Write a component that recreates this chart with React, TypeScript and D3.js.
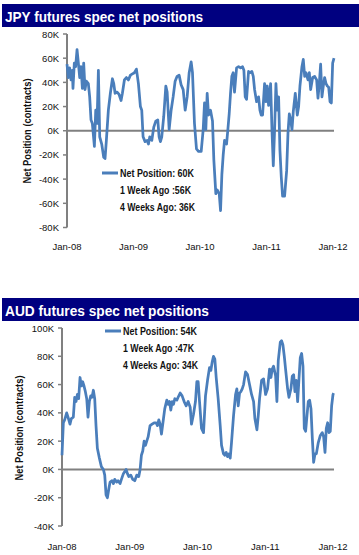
import React from "react";
import * as d3 from "d3";

// ---- JPY data: years since Jan 2008, value in contracts (K) ----
const jpyT = [0,0.020,0.040,0.060,0.080,0.090,0.110,0.130,0.151,0.171,0.191,0.211,0.231,0.251,0.271,0.291,0.321,0.341,0.361,0.381,0.412,0.432,0.452,0.472,0.492,0.522,0.552,0.572,0.592,0.622,0.652,0.683,0.703,0.723,0.753,0.783,0.813,0.833,0.863,0.893,0.923,0.954,0.984,1.014,1.044,1.074,1.104,1.124,1.144,1.174,1.205,1.225,1.245,1.275,1.305,1.335,1.365,1.385,1.405,1.425,1.455,1.486,1.506,1.536,1.566,1.596,1.626,1.656,1.686,1.716,1.747,1.777,1.807,1.837,1.867,1.887,1.917,1.947,1.977,2.018,2.048,2.068,2.088,2.108,2.128,2.158,2.188,2.208,2.238,2.259,2.289,2.309,2.329,2.349,2.369,2.399,2.419,2.439,2.459,2.479,2.499,2.519,2.550,2.580,2.610,2.640,2.660,2.680,2.700,2.730,2.750,2.780,2.801,2.821,2.851,2.881,2.901,2.921,2.941,2.971,2.991,3.011,3.031,3.062,3.082,3.102,3.122,3.142,3.162,3.182,3.202,3.222,3.242,3.272,3.303,3.323,3.343,3.363,3.383,3.403,3.433,3.463,3.483,3.503,3.533,3.553,3.574,3.594,3.624,3.644,3.664,3.694,3.724,3.754,3.774,3.794,3.814,3.834,3.854,3.874,3.895,3.915,3.935,3.955,3.975,3.995,4.015];
const jpyV = [55,44,52,42,50,35,56,53,67,56,44,53,35,56,34,41,39,28,9,6,-13,17,6,50,-5,-11,-22,-23,-8,17,31,43,39,31,32,30,25,31,42,44,42,46,47,48,51,39,20,17,-5,-9,-8,-11,-5,-8,3,8,9,-5,-9,-5,12,37,32,1,17,28,41,45,46,38,34,17,28,48,57,48,6,-15,-17,-17,1,23,1,31,13,17,8,-24,-52,-49,-52,-66,-36,-20,-8,-11,1,14,31,45,48,32,52,53,52,53,50,28,26,49,48,49,45,34,24,28,17,13,13,39,24,37,21,39,1,-29,1,39,17,28,-16,-38,-54,-54,-33,-2,14,9,1,16,31,13,20,37,53,59,45,48,42,48,34,44,45,42,27,39,55,28,37,44,39,37,36,24,23,56,60];

// ---- AUD data ----
const audT = [0,0.020,0.039,0.069,0.089,0.118,0.138,0.167,0.187,0.207,0.227,0.246,0.266,0.286,0.305,0.325,0.345,0.365,0.384,0.404,0.424,0.443,0.463,0.483,0.502,0.522,0.552,0.581,0.611,0.631,0.650,0.670,0.690,0.709,0.739,0.759,0.778,0.808,0.828,0.857,0.877,0.906,0.946,0.966,0.985,1.015,1.044,1.074,1.103,1.133,1.153,1.172,1.192,1.212,1.232,1.251,1.271,1.300,1.330,1.360,1.389,1.409,1.429,1.448,1.468,1.498,1.517,1.547,1.567,1.586,1.606,1.626,1.645,1.665,1.695,1.714,1.744,1.773,1.803,1.833,1.862,1.892,1.911,1.941,1.970,1.990,2.010,2.030,2.059,2.089,2.118,2.148,2.177,2.197,2.217,2.236,2.256,2.276,2.305,2.335,2.355,2.384,2.404,2.424,2.443,2.463,2.483,2.502,2.532,2.562,2.581,2.601,2.621,2.640,2.660,2.680,2.709,2.739,2.768,2.798,2.828,2.847,2.877,2.897,2.916,2.946,2.975,3.005,3.034,3.064,3.084,3.103,3.123,3.153,3.172,3.192,3.222,3.241,3.261,3.281,3.300,3.330,3.350,3.379,3.399,3.419,3.438,3.458,3.478,3.498,3.517,3.537,3.557,3.576,3.596,3.616,3.635,3.655,3.675,3.695,3.714,3.734,3.754,3.783,3.813,3.842,3.862,3.882,3.901,3.921,3.941,3.960,3.980,4.000,4.010];
const audV = [10,33,35,40,37,32,36,37,51,48,53,50,65,59,62,59,55,50,37,48,52,51,56,50,31,15,8,2,0,-4,-18,-20,-14,-9,-8,-10,-7,-9,-8,-10,-7,-3,0,-3,-5,-4,-7,-8,-4,-5,0,10,13,20,17,20,23,31,32,33,33,31,35,32,25,36,43,49,46,48,42,48,46,50,49,51,54,52,48,45,48,44,32,39,48,62,62,48,29,26,52,63,72,70,76,80,78,65,50,31,17,11,10,12,9,11,8,19,38,53,57,45,54,55,57,60,69,67,60,53,48,36,28,38,50,63,64,53,57,71,65,71,73,66,48,77,90,91,88,80,71,57,51,57,66,67,55,63,48,64,79,82,73,29,27,38,48,49,43,22,5,11,11,19,24,26,23,12,29,33,26,27,45,53,54];

const yearTicks = [2008, 2009, 2010, 2011, 2012];
const jpyTicks = [-80, -60, -40, -20, 0, 20, 40, 60, 80];
const audTicks = [-40, -20, 0, 20, 40, 60, 80, 100];
const jpyLegend = ["Net Position: 60K", "1 Week Ago :56K", "4 Weeks Ago: 36K"];
const audLegend = ["Net Position: 54K", "1 Week Ago :47K", "4 Weeks Ago: 34K"];

const BLUE = "#4a7ebb";
const GRAY = "#808080";
const FONT = "'Liberation Sans', Arial, sans-serif";

const toDate = (t: number) => new Date(new Date(2008, 0, 1).getTime() + t * 365.25 * 864e5);

type ChartProps = {
  title: string;
  top: number;
  titleW: number;
  axisX: number;
  yDomain: [number, number];
  yRange: [number, number];
  ticks: number[];
  t: number[];
  v: number[];
  legend: string[];
  legendX: number;
  legendY: number;
  legendW: number[];
  xLabelY: number;
  yTitleX: number;
  yTitleY: number;
};

function Chart(p: ChartProps) {
  const x = d3.scaleTime().domain([new Date(2008, 0, 1), new Date(2012, 0, 1)]).range([p.axisX, 333]);
  const y = d3.scaleLinear().domain(p.yDomain).range(p.yRange);
  const pts = p.t.map((t, i) => ({ d: toDate(t), v: p.v[i] }));
  const line = d3.line<{ d: Date; v: number }>().x(d => x(d.d)).y(d => y(d.v));
  const fmt = d3.timeFormat("%b-%y");
  return (
    <g>
      <rect x={2} y={p.top} width={357} height={23} fill="#000080" />
      <text x={5} y={p.top + 18} fill="#fff" fontFamily={FONT} fontWeight="bold" fontSize={14.5} textLength={p.titleW} lengthAdjust="spacingAndGlyphs">{p.title}</text>
      {/* y axis */}
      <line x1={p.axisX} x2={p.axisX} y1={p.yRange[1]} y2={p.yRange[0]} stroke={GRAY} strokeWidth={2} />
      {p.ticks.map(tk => (
        <g key={tk}>
          <line x1={p.axisX - 4} x2={p.axisX} y1={y(tk)} y2={y(tk)} stroke={GRAY} strokeWidth={1.5} />
          <text x={p.axisX - 8} y={y(tk) + 3.5} textAnchor="end" fontFamily={FONT} fontSize={9.5} fill="#111">{tk + "K"}</text>
        </g>
      ))}
      {/* zero line */}
      <line x1={p.axisX} x2={334} y1={y(0)} y2={y(0)} stroke={GRAY} strokeWidth={2} />
      {yearTicks.map(yr => (
        <text key={yr} x={x(new Date(yr, 0, 1))} y={p.xLabelY} textAnchor="middle" fontFamily={FONT} fontSize={9.5} fill="#111">{fmt(new Date(yr, 0, 1))}</text>
      ))}
      <text transform={`translate(${p.yTitleX},${p.yTitleY}) rotate(-90)`} textAnchor="middle" fontFamily={FONT} fontWeight="bold" fontSize={10} fill="#111" textLength={105} lengthAdjust="spacingAndGlyphs">Net Position (contracts)</text>
      <path d={line(pts) || ""} fill="none" stroke={BLUE} strokeWidth={2.75} strokeLinejoin="round" />
      {/* legend */}
      <line x1={p.legendX - 18} x2={p.legendX - 2} y1={p.legendY} y2={p.legendY} stroke={BLUE} strokeWidth={3} />
      {p.legend.map((s, i) => (
        <text key={s} x={p.legendX} y={p.legendY + 3.5 + i * 17} fontFamily={FONT} fontWeight="bold" fontSize={10} fill="#111" textLength={p.legendW[i]} lengthAdjust="spacingAndGlyphs">{s}</text>
      ))}
    </g>
  );
}

export default function App() {
  return (
    <div style={{ position: "absolute", left: 0, top: 0 }}>
      <svg width={359} height={555} style={{ display: "block" }}>
        <rect width={359} height={555} fill="#fff" />
        <Chart title="JPY futures spec net positions" top={4} titleW={198} axisX={67}
          yDomain={[-80, 80]} yRange={[227.5, 34]} ticks={jpyTicks} t={jpyT} v={jpyV}
          legend={jpyLegend} legendX={120} legendY={173} legendW={[74, 71, 75]}
          xLabelY={250} yTitleX={31} yTitleY={131} />
        <Chart title="AUD futures spec net positions" top={298} titleW={204} axisX={62}
          yDomain={[-40, 100]} yRange={[526, 328]} ticks={audTicks} t={audT} v={audV}
          legend={audLegend} legendX={123} legendY={331} legendW={[74, 71, 75]}
          xLabelY={550} yTitleX={23} yTitleY={428} />
      </svg>
    </div>
  );
}
